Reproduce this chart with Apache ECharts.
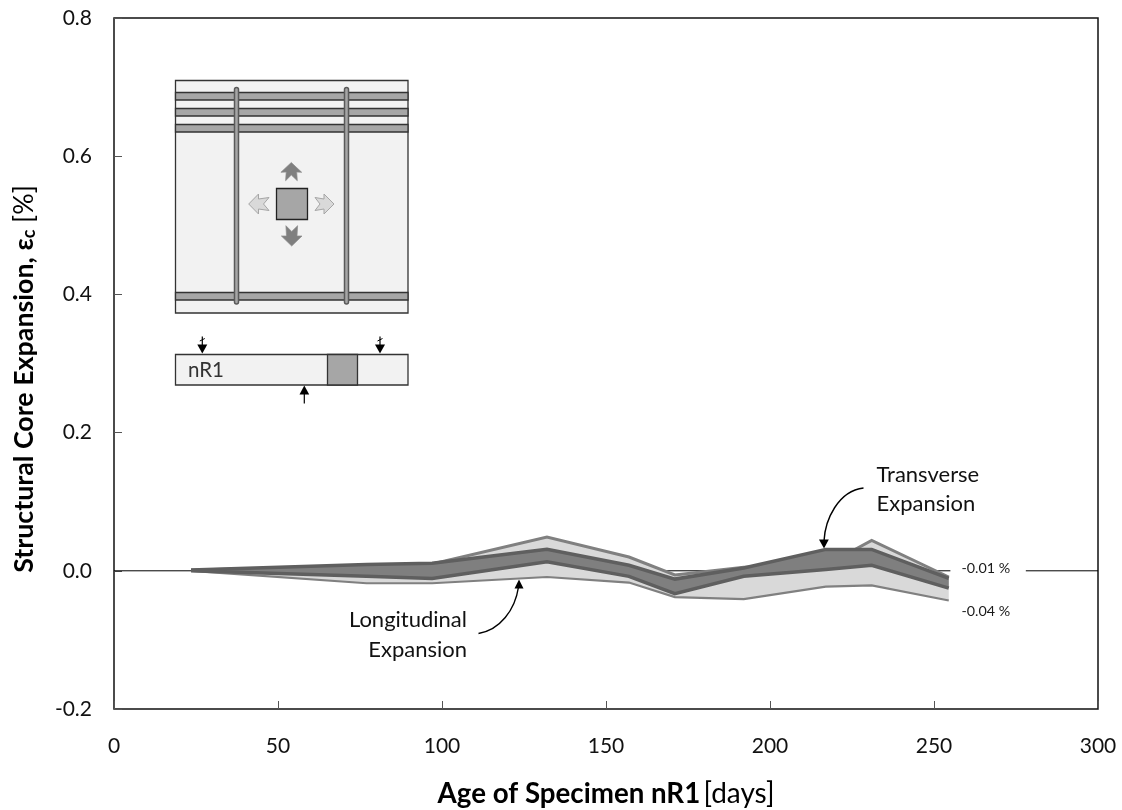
<!DOCTYPE html>
<html>
<head>
<meta charset="utf-8">
<script src="https://cdn.jsdelivr.net/npm/echarts@6/dist/echarts.min.js"></script>
<style>html,body{margin:0;padding:0;background:#fff}#c{width:1122px;height:810px}</style>
</head>
<body>
<div id="c"></div>
<script>
const ages = [23.5, 77, 97, 132, 157, 171, 192, 217, 231, 254.5];
const longMax = [0.001, 0.007, 0.010, 0.049, 0.020, -0.006, 0.005, 0.008, 0.044, -0.009];
const longMin = [0.000, -0.018, -0.018, -0.009, -0.017, -0.038, -0.041, -0.023, -0.021, -0.043];
const transMax = [0.001, 0.009, 0.011, 0.031, 0.008, -0.012, 0.004, 0.031, 0.031, -0.011];
const transMin = [0.000, -0.008, -0.011, 0.013, -0.008, -0.033, -0.008, 0.002, 0.008, -0.025];
const zeroLine = [[0, 0], [255, 0], [null, null], [278, 0], [300, 0]];
const endLabels = ['-0.01 %', '-0.04 %'];

const FONT = 'Lato, "Open Sans", sans-serif';
const dark = '#333333';

function band(upper, lower, fill, z) {
  return {
    type: 'custom', silent: true, clip: true, z,
    data: ages.map((a, i) => [a, upper[i], lower[i]]),
    encode: { x: 0, y: [1, 2] },
    renderItem(params, api) {
      if (params.dataIndex !== 0) return null;
      const top = ages.map((a, i) => api.coord([a, upper[i]]));
      const bot = ages.map((a, i) => api.coord([a, lower[i]])).reverse();
      return { type: 'polygon', shape: { points: top.concat(bot) }, style: { fill: fill } };
    }
  };
}
function edge(values, color, width, z) {
  return {
    type: 'line', silent: true, symbol: 'none', z, lineStyle: { color: color, width: width, cap: 'butt', join: 'miter' },
    data: ages.map((a, i) => [a, values[i]])
  };
}

// --- inset specimen sketch (decoration) ---
const g = [];
function rect(x, y, w, h, fill, stroke, lw, r) {
  g.push({ type: 'rect', shape: { x, y, width: w, height: h, r: r || 0 }, style: { fill, stroke, lineWidth: lw || 1 }, silent: true });
}
function poly(pts, fill, stroke, lw) {
  g.push({ type: 'polygon', shape: { points: pts }, style: { fill, stroke: stroke || null, lineWidth: lw || 0 }, silent: true });
}
function seg(x1, y1, x2, y2, w) {
  g.push({ type: 'line', shape: { x1, y1, x2, y2 }, style: { stroke: '#000', lineWidth: w || 1 }, silent: true });
}
function txt(text, x, y, size, align, color) {
  g.push({ type: 'text', x, y, silent: true, style: { text, fontFamily: FONT, fontSize: size, fill: color || '#111', align: align || 'left', verticalAlign: 'middle' } });
}
rect(175.5, 80.5, 232.5, 232.5, '#f2f2f2', dark, 1.3);
[92.5, 108.5, 124.5, 292.5].forEach(y => rect(175.5, y, 232.5, 7.5, '#a6a6a6', dark, 1.3));
[234.5, 344.5].forEach(x => rect(x, 87.5, 4, 216.5, '#a6a6a6', '#595959', 1.5, 2));
rect(276.5, 188.5, 31, 31, '#a6a6a6', '#222', 1.3);
const up = '#7f7f7f', lf = '#d9d9d9';
poly([[291.3,162.5],[301.7,172.3],[296.7,172],[297.3,180.7],[291.3,175],[285.6,180.7],[286.2,172],[280.9,172.3]], up, '#8c8c8c', 0.7);
poly([[291.7,246],[302,236],[297,236],[297.6,225.7],[291.7,231.5],[285.9,225.7],[286.5,236],[281.4,236]], up, '#8c8c8c', 0.7);
poly([[248.7,204],[258.5,194],[258.5,199],[269,197.5],[263.5,204],[269,210.5],[258.5,209],[258.5,214]], lf, '#a6a6a6', 1);
poly([[334,204],[324,194],[324,199],[315,197.5],[320,204],[315,210.5],[324,209],[324,214]], lf, '#a6a6a6', 1);

rect(175.5, 354.5, 232.5, 30.5, '#f2f2f2', dark, 1.3);
rect(327.5, 354.5, 30, 30.5, '#a6a6a6', dark, 1.3);
txt('nR1', 188, 370, 20.5, 'left', '#333');
[202.3, 380].forEach(x => {
  seg(x, 336.5, x, 345, 1.2);
  seg(x - 2.5, 341, x + 2.5, 338.5, 1);
  poly([[x - 5, 344.5], [x + 5, 344.5], [x, 353.5]], '#000');
});
seg(304.3, 393, 304.3, 403.5, 1.2);
poly([[299.5, 394.5], [309.2, 394.5], [304.3, 385.5]], '#000');

// --- annotations ---
g.push({ type: 'bezierCurve', silent: true, shape: { x1: 863.5, y1: 488, cpx1: 838, cpy1: 491, cpx2: 825, cpy2: 520, x2: 824, y2: 541 }, style: { stroke: '#000', fill: null, lineWidth: 1.4 } });
poly([[819, 539.5], [828.8, 539.5], [824, 548.5]], '#000');
g.push({ type: 'bezierCurve', silent: true, shape: { x1: 478.5, y1: 633.5, cpx1: 500, cpy1: 630, cpx2: 515, cpy2: 610, x2: 518.5, y2: 587 }, style: { stroke: '#000', fill: null, lineWidth: 1.4 } });
poly([[514.5, 588.5], [523.5, 588.5], [519, 579.5]], '#000');
txt('Transverse', 876.5, 475, 22);
txt('Expansion', 876.5, 504, 22);
txt('Longitudinal', 467, 620, 22, 'right');
txt('Expansion', 467, 650, 22, 'right');
txt(endLabels[0], 961.5, 568, 14.3, 'left', '#1a1a1a');
txt(endLabels[1], 961.5, 611, 14.3, 'left', '#1a1a1a');

const option = {
  animation: false,
  backgroundColor: '#fff',
  grid: { left: 114, right: 24, top: 18, bottom: 101, outerBoundsMode: 'none', show: true, borderColor: '#111', borderWidth: 1.5, backgroundColor: 'transparent' },
  xAxis: {
    type: 'value', min: 0, max: 300, interval: 50,
    name: '{b|Age of Specimen nR1} {r|[days]}',
    nameLocation: 'middle', nameGap: 71,
    nameTextStyle: { rich: { b: { fontFamily: FONT, fontWeight: 'bold', fontSize: 27.7, color: '#000' }, r: { fontFamily: FONT, fontSize: 28, color: '#000' } } },
    axisLine: { show: false, onZero: false },
    axisTick: { show: true, inside: true, length: 8, lineStyle: { color: '#555' } },
    axisLabel: { margin: 27, fontFamily: FONT, fontSize: 21, color: '#111' },
    splitLine: { show: false }
  },
  yAxis: {
    type: 'value', min: -0.2, max: 0.8, interval: 0.2,
    name: '{b|Structural Core Expansion, ε}{s|c}  {r|[%]}',
    nameLocation: 'middle', nameGap: 76,
    nameTextStyle: { padding: [0, 31, 0, 0], rich: { b: { fontFamily: FONT, fontWeight: 'bold', fontSize: 26.8, color: '#000' }, s: { fontFamily: FONT, fontWeight: 'bold', fontSize: 18, color: '#000', verticalAlign: 'bottom', padding: [10, 0, 0, 0] }, r: { fontFamily: FONT, fontSize: 26.8, color: '#000' } } },
    axisLine: { show: false, onZero: false },
    axisTick: { show: true, inside: true, length: 8, lineStyle: { color: '#555' } },
    axisLabel: { margin: 22, fontFamily: FONT, fontSize: 21, color: '#111', formatter: v => v.toFixed(1) },
    splitLine: { show: false }
  },
  graphic: g,
  series: [
    { type: 'line', silent: true, symbol: 'none', z: 1, lineStyle: { color: '#000', width: 1 }, data: zeroLine, connectNulls: false },
    band(longMax, longMin, '#d9d9d9', 2),
    edge(longMax, '#808080', 3, 3),
    edge(longMin, '#808080', 2.2, 3),
    band(transMax, transMin, '#7f7f7f', 4),
    edge(transMax, '#5f5f5f', 3.5, 5),
    edge(transMin, '#5f5f5f', 3.5, 5)
  ]
};
echarts.init(document.getElementById('c'), null, { renderer: 'canvas' }).setOption(option);
</script>
</body>
</html>
